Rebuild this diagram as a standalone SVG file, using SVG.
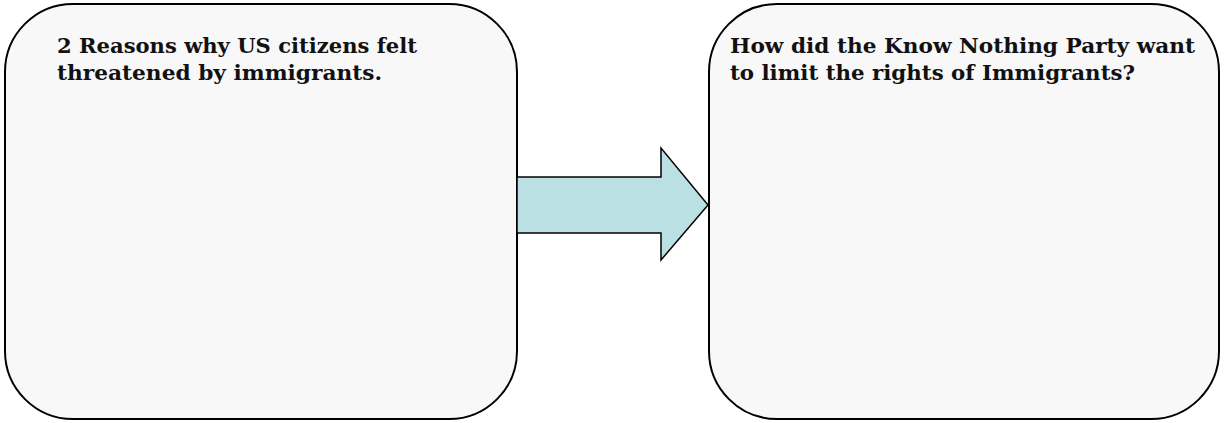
<svg xmlns="http://www.w3.org/2000/svg" width="1225" height="423" viewBox="0 0 1225 423">
<style>
.box{fill:#f8f8f8;stroke:#000;stroke-width:2}
.t{font-family:"DejaVu Serif","Liberation Serif",serif;font-weight:bold;font-size:20px;fill:#111}
</style>
<rect width="1225" height="423" fill="#fff"/>
<g id="node-left">
<rect class="box" x="5" y="4" width="512" height="415" rx="68" ry="68"/>
<text class="t" x="57" y="53" textLength="360" lengthAdjust="spacingAndGlyphs">2 Reasons why US citizens felt</text>
<text class="t" x="57" y="80" textLength="325" lengthAdjust="spacingAndGlyphs">threatened by immigrants.</text>
</g>
<g id="node-right">
<rect class="box" x="709" y="4" width="510" height="415" rx="68" ry="68"/>
<text class="t" x="730" y="53" textLength="465" lengthAdjust="spacingAndGlyphs">How did the Know Nothing Party want</text>
<text class="t" x="730" y="80" textLength="405" lengthAdjust="spacingAndGlyphs">to limit the rights of Immigrants?</text>
</g>
<g id="connectors">
<polygon points="517,177 661,177 661,148 708,205 661,260 661,233 517,233" fill="#bbe0e3" stroke="#000" stroke-width="1.5"/>
</g>
</svg>
